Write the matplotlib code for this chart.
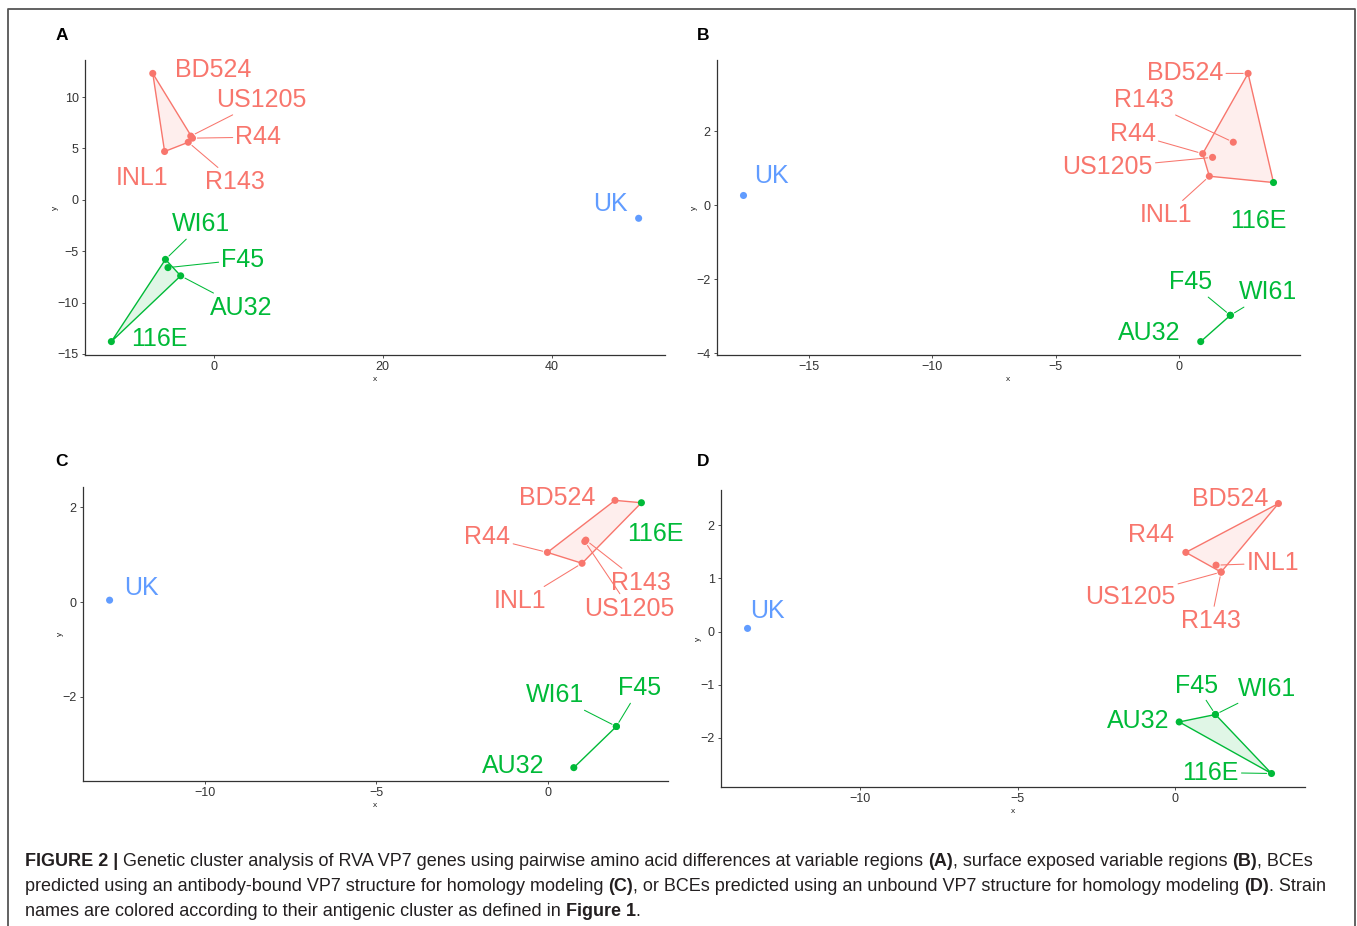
import numpy as np
import matplotlib
matplotlib.use("Agg")
import matplotlib.pyplot as plt
from matplotlib.patches import Polygon
from matplotlib.lines import Line2D

plt.rcParams['font.family'] = ['Liberation Sans', 'DejaVu Sans']

W, H = 1357, 926

# strains and their antigenic cluster (colour of point / label)
strains = ["BD524", "US1205", "R44", "R143", "INL1", "WI61", "F45", "AU32", "116E", "UK"]
antigenic = ["red"] * 5 + ["green"] * 4 + ["blue"]
colours = {"red": "#F8766D", "green": "#00BA38", "blue": "#619CFF"}

# panel A: variable regions
a_x = [-7.2, -2.7, -2.5, -3.0, -5.8, -5.7, -5.4, -3.9, -12.1, 50.3]
a_y = [12.3, 6.2, 6.0, 5.6, 4.7, -5.8, -6.6, -7.4, -13.8, -1.8]
a_hull = ["red", "red", "red", "red", "red", "green", "green", "green", "green", None]

# panel B: surface exposed variable regions
b_x = [2.80, 1.36, 0.96, 2.20, 1.23, 2.08, 2.08, 0.88, 3.83, -17.65]
b_y = [3.56, 1.29, 1.39, 1.70, 0.78, -2.98, -2.98, -3.69, 0.61, 0.26]
b_hull = ["red", "red", "red", "red", "red", "green", "green", "green", "red", None]

# panel C: BCEs, antibody-bound structure
c_x = [1.96, 1.08, -0.01, 1.11, 1.00, 2.00, 2.00, 0.76, 2.73, -12.77]
c_y = [2.15, 1.28, 1.05, 1.31, 0.82, -2.63, -2.63, -3.50, 2.10, 0.04]
c_hull = ["red", "red", "red", "red", "red", "green", "green", "green", "red", None]

# panel D: BCEs, unbound structure
d_x = [3.28, 1.46, 0.34, 1.46, 1.30, 1.28, 1.28, 0.13, 3.06, -13.57]
d_y = [2.41, 1.12, 1.49, 1.12, 1.25, -1.56, -1.56, -1.70, -2.67, 0.06]
d_hull = ["red", "red", "red", "red", "red", "green", "green", "green", "green", None]

# label placement (pixel offset right/down from point, draw segment?)
a_lab = {"BD524": (60, -3, 0), "US1205": (71, -36, 1), "R44": (66, -1, 1), "R143": (47, 40, 1),
         "INL1": (-23, 26, 0), "WI61": (36, -35, 1), "F45": (75, -8, 1), "AU32": (61, 32, 1),
         "116E": (48, -3, 0), "UK": (-28, -14, 0)}
b_lab = {"BD524": (-63, 0, 1), "US1205": (-105, 10, 1), "R44": (-70, -20, 1), "R143": (-89, -42, 1),
         "INL1": (-43, 39, 1), "WI61": (38, -23, 1), "F45": (-40, -33, 1), "AU32": (-52, -9, 0),
         "116E": (-15, 38, 0), "UK": (28, -19, 0)}
c_lab = {"BD524": (-58, -2, 0), "US1205": (45, 67, 1), "R44": (-60, -15, 1), "R143": (55, 43, 1),
         "INL1": (-62, 38, 1), "WI61": (-61, -31, 1), "F45": (23, -38, 1), "AU32": (-61, -2, 0),
         "116E": (14, 31, 0), "UK": (32, -12, 0)}
d_lab = {"BD524": (-48, -5, 0), "US1205": (-91, 25, 1), "R44": (-35, -17, 0), "R143": (-10, 49, 1),
         "INL1": (57, -2, 1), "WI61": (52, -26, 1), "F45": (-19, -29, 1), "AU32": (-41, -1, 0),
         "116E": (-61, -1, 1), "UK": (20, -17, 0)}


def convex_hull(pts):
    pts = sorted(set(pts))
    if len(pts) < 3:
        return pts

    def cross(o, a, b):
        return (a[0] - o[0]) * (b[1] - o[1]) - (a[1] - o[1]) * (b[0] - o[0])

    lower, upper = [], []
    for p in pts:
        while len(lower) >= 2 and cross(lower[-2], lower[-1], p) <= 0:
            lower.pop()
        lower.append(p)
    for p in reversed(pts):
        while len(upper) >= 2 and cross(upper[-2], upper[-1], p) <= 0:
            upper.pop()
        upper.append(p)
    return lower[:-1] + upper[:-1]


def draw_panel(box, x, y, hull, labels, xticks, yticks, letter):
    l, t, r, b = box
    ax = fig.add_axes([l / W, 1 - b / H, (r - l) / W, (b - t) / H])
    x = np.array(x)
    y = np.array(y)

    for grp in ["red", "green"]:
        pts = [(x[i], y[i]) for i in range(len(x)) if hull[i] == grp]
        hp = convex_hull(pts)
        ax.add_patch(Polygon(hp, closed=True, facecolor=colours[grp], alpha=0.12,
                             edgecolor="none", zorder=1))
        ax.add_patch(Polygon(hp, closed=True, fill=False, edgecolor=colours[grp],
                             lw=1.0, zorder=2))

    cols = [colours[c] for c in antigenic]
    ax.scatter(x, y, s=26, c=cols, zorder=3, linewidths=0)

    for i, name in enumerate(strains):
        dx, dy, seg = labels[name]
        kw = {}
        if seg:
            kw["arrowprops"] = dict(arrowstyle="-", color=cols[i], lw=0.75,
                                    shrinkA=0, shrinkB=3.5)
        ax.annotate(name, (x[i], y[i]), xytext=(dx, -dy), textcoords="offset pixels",
                    ha="center", va="center", fontsize=18, color=cols[i], zorder=4, **kw)

    # ggplot-like 5% expansion
    xr = x.max() - x.min()
    yr = y.max() - y.min()
    ax.set_xlim(x.min() - 0.05 * xr, x.max() + 0.05 * xr)
    ax.set_ylim(y.min() - 0.05 * yr, y.max() + 0.05 * yr)
    ax.set_xticks(xticks)
    ax.set_yticks(yticks)

    for s in ["top", "right"]:
        ax.spines[s].set_visible(False)
    for s in ["left", "bottom"]:
        ax.spines[s].set_color("#333333")
        ax.spines[s].set_linewidth(0.9)
    ax.tick_params(length=2.5, width=0.6, color="#333333", labelsize=9,
                   labelcolor="#333333", pad=2)
    ax.set_xlabel("x", fontsize=6, labelpad=2, color="#222222")
    ax.set_ylabel("y", fontsize=6, labelpad=-1, color="#222222")

    lx, ly = letter_pos[letter]
    fig.text(lx, H - ly, letter, fontsize=12.5, weight="bold", ha="center", va="center",
             transform=None)
    return ax


letter_pos = {"A": (62, 35), "B": (703, 35), "C": (61, 462), "D": (703, 462)}

fig = plt.figure(figsize=(W / 100, H / 100), dpi=100)

draw_panel((85, 60, 665, 355), a_x, a_y, a_hull, a_lab, [0, 20, 40], [-15, -10, -5, 0, 5, 10], "A")
draw_panel((717, 60, 1300, 355), b_x, b_y, b_hull, b_lab, [-15, -10, -5, 0], [-4, -2, 0, 2], "B")
draw_panel((83, 487, 668, 781), c_x, c_y, c_hull, c_lab, [-10, -5, 0], [-2, 0, 2], "C")
draw_panel((721, 490, 1305, 787), d_x, d_y, d_hull, d_lab, [-10, -5, 0], [-2, -1, 0, 1, 2], "D")

# outer frame
fig.add_artist(Line2D([8 / W, 8 / W, 1355 / W, 1355 / W], [0, 1 - 9 / H, 1 - 9 / H, 0],
                      color="#555555", lw=1.3, transform=fig.transFigure))

# caption with mixed weights
caption = [
    [("FIGURE 2 |", True), (" Genetic cluster analysis of RVA VP7 genes using pairwise amino acid "
                            "differences at variable regions ", False), ("(A)", True),
     (", surface exposed variable regions ", False), ("(B)", True), (", BCEs", False)],
    [("predicted using an antibody-bound VP7 structure for homology modeling ", False), ("(C)", True),
     (", or BCEs predicted using an unbound VP7 structure for homology modeling ", False),
     ("(D)", True), (". Strain", False)],
    [("names are colored according to their antigenic cluster as defined in ", False),
     ("Figure 1", True), (".", False)],
]
cap_size = 13
renderer = fig.canvas.get_renderer()


def text_width(s, bold=False):
    t = fig.text(0, 0, s, fontsize=cap_size, weight="bold" if bold else "normal")
    w = t.get_window_extent(renderer).width
    t.remove()
    return w


space = text_width("a a") - text_width("aa")
baselines = [866, 891, 916]
for line, yb in zip(caption, baselines):
    xpos = 25
    for k, (txt, bold) in enumerate(line):
        if txt.startswith(" "):
            xpos += space
        t = fig.text(xpos, H - yb, txt.strip(), fontsize=cap_size,
                     weight="bold" if bold else "normal", ha="left", va="baseline",
                     color="#231f20", transform=None)
        xpos = t.get_window_extent(renderer).x1
        if txt.endswith(" "):
            xpos += space

fig.savefig("out.png", dpi=100)
